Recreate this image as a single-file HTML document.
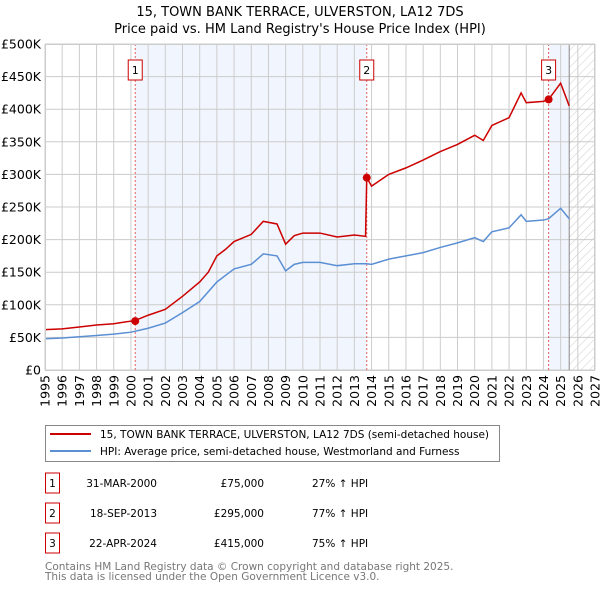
<!DOCTYPE html>
<html><head><meta charset="utf-8"><style>
body{margin:0;background:#fff;}
svg{font-family:"DejaVu Sans","Liberation Sans",sans-serif;}
</style></head><body>
<svg width="600" height="590" viewBox="0 0 600 590" xmlns="http://www.w3.org/2000/svg">
<defs>
<pattern id="hatch" width="6" height="6" patternUnits="userSpaceOnUse" patternTransform="rotate(45)">
<line x1="0" y1="0" x2="0" y2="6" stroke="#ccc" stroke-width="1"/>
</pattern>
</defs>
<text x="300" y="16" text-anchor="middle" font-size="13">15, TOWN BANK TERRACE, ULVERSTON, LA12 7DS</text>
<text x="300" y="33" text-anchor="middle" font-size="13">Price paid vs. HM Land Registry's House Price Index (HPI)</text>
<g id="plot"></g>
<g id="legend">
<rect x="45.5" y="425.5" width="454" height="36" fill="#fff" stroke="#888"/>
<line x1="50" y1="434" x2="91" y2="434" stroke="#cc0000" stroke-width="2"/>
<text x="100" y="438" font-size="10.5">15, TOWN BANK TERRACE, ULVERSTON, LA12 7DS (semi-detached house)</text>
<line x1="50" y1="451" x2="91" y2="451" stroke="#5b8fd4" stroke-width="2"/>
<text x="100" y="455" font-size="10.5">HPI: Average price, semi-detached house, Westmorland and Furness</text>
</g>
<g id="table" font-size="10.5"></g>
<text x="45" y="570" font-size="10.5" fill="#777">Contains HM Land Registry data © Crown copyright and database right 2025.</text>
<text x="45" y="580" font-size="10.5" fill="#777">This data is licensed under the Open Government Licence v3.0.</text>
</svg>
<script>
const hpiYears=[1995,1996,1997,1998,1999,2000,2001,2002,2003,2004,2004.5,2005,2005.5,2006,2007,2007.7,2008.5,2009,2009.5,2010,2011,2012,2013,2013.7,2014,2015,2016,2017,2018,2019,2020,2020.5,2021,2022,2022.7,2023,2024,2024.3,2025,2025.5];
const hpiValues=[48,49,51,53,55,58,64,72,88,105,120,135,145,155,162,178,175,152,162,165,165,160,163,163,162,170,175,180,188,195,203,197,212,218,238,228,230,232,248,232];
const propYears=[1995,1996,1997,1998,1999,2000.25,2001,2002,2003,2004,2004.5,2005,2005.5,2006,2007,2007.7,2008.5,2009,2009.5,2010,2011,2012,2013,2013.65,2013.72,2014,2015,2016,2017,2018,2019,2020,2020.5,2021,2022,2022.7,2023,2024,2024.3,2025,2025.5];
const propValues=[62,63,66,69,71,76,84,93,113,135,150,175,185,197,208,228,224,193,206,210,210,204,207,205,295,282,300,310,322,335,346,360,352,375,387,425,410,412,415,440,405];
const saleYears=[2000.25,2013.72,2024.3];
const saleValues=[75,295,415];
const saleLabels=["1","2","3"];
const saleDates=["31-MAR-2000","18-SEP-2013","22-APR-2024"];
const salePrices=["£75,000","£295,000","£415,000"];
const saleDiffs=["27% ↑ HPI","77% ↑ HPI","75% ↑ HPI"];
const yTicks=[0,50,100,150,200,250,300,350,400,450,500];
const yTickLabels=["£0","£50K","£100K","£150K","£200K","£250K","£300K","£350K","£400K","£450K","£500K"];
const xMin=1995,xMax=2027,yMax=500,dataEnd=2025.5;
const L=45,R=595,T=44,B=370;
const sx=v=>L+(v-xMin)/(xMax-xMin)*(R-L);
const sy=v=>B-v/yMax*(B-T);
const NS="http://www.w3.org/2000/svg";
const plot=document.getElementById('plot');
function mk(tag,attrs,parent){const e=document.createElementNS(NS,tag);for(const k in attrs)e.setAttribute(k,attrs[k]);(parent||plot).appendChild(e);return e;}
let e;
e=mk('rect',{x:sx(saleYears[0]),y:T,width:sx(saleYears[1])-sx(saleYears[0]),height:B-T,fill:'#eef3fc',opacity:0.8});


e=mk('rect',{x:sx(saleYears[2]),y:T,width:sx(dataEnd)-sx(saleYears[2]),height:B-T,fill:'#eef3fc',opacity:0.8});


e=mk('rect',{x:sx(dataEnd),y:T,width:R-sx(dataEnd),height:B-T,fill:'url(#hatch)'});


for(let y=xMin;y<=xMax;y++){
 e=mk('line',{x1:sx(y),x2:sx(y),y1:T,y2:B,stroke:'#ccc','stroke-width':1});
 
 
 const t=mk('text',{x:0,y:0,'font-size':12.5,'text-anchor':'end',transform:`translate(${sx(y)+4.5},${B+5}) rotate(-90)`});
 t.textContent=y;
 
 
}
yTicks.forEach((v,i)=>{
 e=mk('line',{x1:L,x2:R,y1:sy(v),y2:sy(v),stroke:'#ccc','stroke-width':1});
 
 
 const t=mk('text',{x:L-4,y:sy(v)+4.5,'font-size':12.5,'text-anchor':'end'});
 t.textContent=yTickLabels[i];
 
 
});
e=mk('line',{x1:sx(dataEnd),x2:sx(dataEnd),y1:T,y2:B,stroke:'#888','stroke-width':1});


saleYears.forEach((y,i)=>{
 e=mk('line',{x1:sx(y),x2:sx(y),y1:T,y2:B,stroke:'#e06060','stroke-width':1,'stroke-dasharray':'2,2'});
 
 
 e=mk('rect',{x:sx(y)-7,y:T+16,width:14,height:20,fill:'#fff',stroke:'#cc0000'});
 
 
 const t=mk('text',{x:sx(y),y:T+30,'font-size':11,'text-anchor':'middle'});
 t.textContent=saleLabels[i];
 
 
});
e=mk('polyline',{points:hpiYears.map((y,i)=>sx(y)+','+sy(hpiValues[i])).join(' '),fill:'none',stroke:'#5b8fd4','stroke-width':1.5});


e=mk('polyline',{points:propYears.map((y,i)=>sx(y)+','+sy(propValues[i])).join(' '),fill:'none',stroke:'#cc0000','stroke-width':1.5});


saleYears.forEach((y,i)=>{
 e=mk('circle',{cx:sx(y),cy:sy(saleValues[i]),r:4,fill:'#cc0000'});
 
 
});
e=mk('rect',{x:L+0.5,y:T+0.5,width:R-L-1,height:B-T,fill:'none',stroke:'#ccc'});


const tb=document.getElementById('table');
saleLabels.forEach((s,i)=>{
 const y=483+i*30;
 e=mk('rect',{x:45.5,y:y-10,width:14,height:20,fill:'#fff',stroke:'#cc0000'},tb);
 
 
 let t=mk('text',{x:52.5,y:y+4,'text-anchor':'middle'},tb);t.textContent=s;
 
 
 t=mk('text',{x:157,y:y+4,'text-anchor':'end'},tb);t.textContent=saleDates[i];
 
 
 t=mk('text',{x:264,y:y+4,'text-anchor':'end'},tb);t.textContent=salePrices[i];
 
 
 t=mk('text',{x:312,y:y+4},tb);t.textContent=saleDiffs[i];
 
 
});
</script>
</body></html>
